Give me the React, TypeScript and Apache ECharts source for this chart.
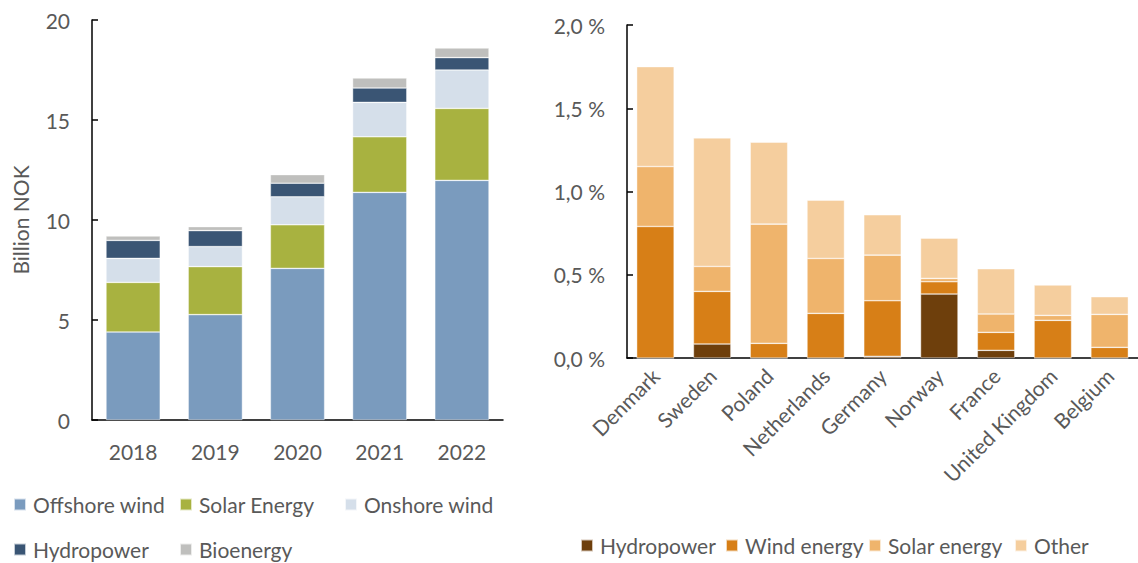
import React, { useEffect, useRef } from "react";
import * as echarts from "echarts";

const years = ["2018", "2019", "2020", "2021", "2022"];
const offshoreWind = [4.4, 5.27, 7.58, 11.38, 11.98];
const solarEnergyL = [2.48, 2.4, 2.18, 2.78, 3.6];
const onshoreWind = [1.2, 1.0, 1.4, 1.72, 1.92];
const hydropowerL = [0.9, 0.8, 0.68, 0.72, 0.62];
const bioenergy = [0.22, 0.2, 0.43, 0.5, 0.48];

const countries = ["Denmark", "Sweden", "Poland", "Netherlands", "Germany", "Norway", "France", "United Kingdom", "Belgium"];
const hydropowerR = [0, 0.084, 0, 0, 0.01, 0.384, 0.046, 0, 0];
const windEnergy = [0.79, 0.316, 0.088, 0.268, 0.334, 0.074, 0.108, 0.226, 0.064];
const solarEnergyR = [0.36, 0.15, 0.716, 0.33, 0.274, 0.02, 0.11, 0.03, 0.198];
const other = [0.6, 0.772, 0.492, 0.35, 0.242, 0.242, 0.272, 0.182, 0.106];

const leftYTicks = { min: 0, max: 20, interval: 5 };
const rightYTicks = { min: 0, max: 2, interval: 0.5 };

const FONT = "Lato";
const TXT = "#595959";
const FS = 21;

export default function App() {
  const ref = useRef<HTMLDivElement>(null);
  useEffect(() => {
    if (!ref.current) return;
    const chart = echarts.init(ref.current, undefined, { renderer: "svg" });
    const border = { borderColor: "rgba(255,255,255,0.7)", borderWidth: 0.6 };
    const leftSeries = [
      { name: "Offshore wind", data: offshoreWind, color: "#7A9BBE" },
      { name: "Solar Energy", data: solarEnergyL, color: "#A8B240" },
      { name: "Onshore wind", data: onshoreWind, color: "#D5DFEA" },
      { name: "Hydropower", data: hydropowerL, color: "#3A5574" },
      { name: "Bioenergy", data: bioenergy, color: "#BFBFBD" },
    ];
    const rightSeries = [
      { name: "Hydropower", data: hydropowerR, color: "#6E3F0C" },
      { name: "Wind energy", data: windEnergy, color: "#D77F17" },
      { name: "Solar energy", data: solarEnergyR, color: "#EFB46C" },
      { name: "Other", data: other, color: "#F5CE9E" },
    ];
    const legendPos = [
      { name: "Offshore wind", color: "#7A9BBE", left: 13, top: 494 },
      { name: "Solar Energy", color: "#A8B240", left: 179, top: 494 },
      { name: "Onshore wind", color: "#D5DFEA", left: 344, top: 494 },
      { name: "Hydropower", color: "#3A5574", left: 13, top: 539 },
      { name: "Bioenergy", color: "#BFBFBD", left: 179, top: 539 },
      { name: "Hydropower", color: "#6E3F0C", left: 580, top: 535 },
      { name: "Wind energy", color: "#D77F17", left: 725, top: 535 },
      { name: "Solar energy", color: "#EFB46C", left: 868, top: 535 },
      { name: "Other", color: "#F5CE9E", left: 1014, top: 535 },
    ];
    const axisLine = { show: true, lineStyle: { color: "#000", width: 1.5 } };
    const option: any = {
      animation: false,
      textStyle: { fontFamily: FONT },
      legend: legendPos.map((l) => ({
        left: l.left,
        top: l.top,
        padding: 0,
        itemWidth: 12,
        itemHeight: 12,
        icon: "rect",
        selectedMode: false,
        textStyle: { fontFamily: FONT, fontSize: FS, color: TXT, padding: [0, 0, 0, 2] },
        data: [{ name: l.name, itemStyle: { color: l.color } }],
      })),
      grid: [
        { left: 92, top: 20, width: 411, height: 400 },
        { left: 627, top: 25, width: 511, height: 333 },
      ],
      xAxis: [
        {
          type: "category",
          gridIndex: 0,
          data: years,
          axisLine,
          axisTick: { show: false },
          axisLabel: { color: TXT, fontSize: FS, fontFamily: FONT, margin: 21 },
        },
        {
          type: "category",
          gridIndex: 1,
          data: countries,
          axisLine,
          axisTick: { show: false },
          axisLabel: { color: TXT, fontSize: FS, fontFamily: FONT, rotate: 45, margin: 14, interval: 0 },
        },
      ],
      yAxis: [
        {
          type: "value",
          gridIndex: 0,
          ...leftYTicks,
          name: "Billion NOK",
          nameLocation: "middle",
          nameGap: 61,
          nameTextStyle: { color: TXT, fontSize: FS, fontFamily: FONT },
          axisLine,
          axisTick: { show: true, inside: true, length: 6, lineStyle: { color: "#000", width: 1.5 } },
          splitLine: { show: false },
          axisLabel: { color: TXT, fontSize: FS, fontFamily: FONT, margin: 22 },
        },
        {
          type: "value",
          gridIndex: 1,
          ...rightYTicks,
          axisLine,
          axisTick: { show: true, inside: true, length: 6, lineStyle: { color: "#000", width: 1.5 } },
          splitLine: { show: false },
          axisLabel: {
            color: TXT,
            fontSize: FS,
            fontFamily: FONT,
            margin: 22,
            formatter: (v: number) => v.toFixed(1).replace(".", ",") + " %",
          },
        },
      ],
      series: [
        ...leftSeries.map((s) => ({
          type: "bar",
          name: s.name,
          xAxisIndex: 0,
          yAxisIndex: 0,
          stack: "left",
          data: s.data,
          barCategoryGap: "34%",
          itemStyle: { color: s.color, ...border },
        })),
        ...rightSeries.map((s) => ({
          type: "bar",
          name: s.name,
          xAxisIndex: 1,
          yAxisIndex: 1,
          stack: "right",
          data: s.data,
          barCategoryGap: "34%",
          itemStyle: { color: s.color, ...border },
        })),
      ],
    };
    chart.setOption(option);
    return () => chart.dispose();
  }, []);
  return (
    <div
      ref={ref}
      style={{ position: "fixed", left: 0, top: 0, width: 1138, height: 563, background: "#fff" }}
    />
  );
}
